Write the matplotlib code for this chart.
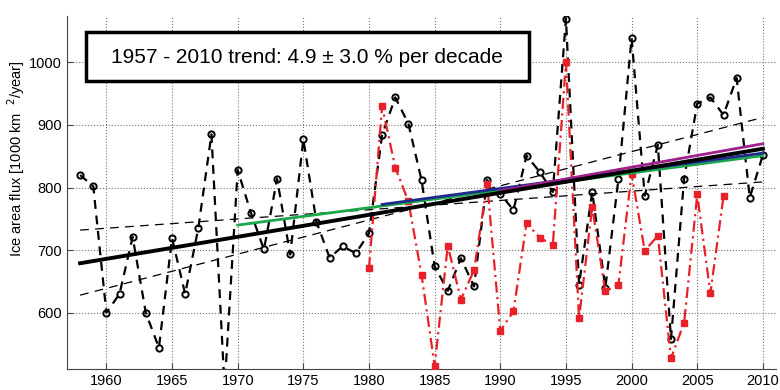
import numpy as np
import matplotlib
matplotlib.use("Agg")
import matplotlib.pyplot as plt
from matplotlib.patches import Rectangle

plt.rcParams["font.family"] = ["Liberation Sans", "DejaVu Sans"]

# annual ice area flux, 1958-2010 (black, circles)
years = list(range(1958, 2011))
flux = [820, 802, 600, 630, 721, 600, 544, 719, 630, 735,
        885, 480, 828, 760, 701, 814, 693, 877, 745, 688,
        706, 695, 727, 884, 944, 902, 812, 674, 635, 687,
        642, 812, 790, 764, 851, 825, 793, 1070, 645, 793,
        640, 814, 1039, 787, 868, 558, 814, 934, 944, 916,
        975, 784, 852]

# second estimate, 1980-2007 (red, squares)
years_red = list(range(1980, 2008))
flux_red = [671, 930, 832, 778, 661, 515, 707, 621, 668, 806,
            571, 602, 743, 720, 708, 1000, 591, 769, 634, 645,
            822, 699, 723, 527, 584, 789, 631, 786]

# trend lines (end points)
trend_years = [1958, 2010]
trend_all = [679, 862]
ci_steep = [628, 912]
ci_shallow = [732, 809]
green_years = [1970, 2010]
green_vals = [740, 851]
blue_years = [1981, 2010]
blue_vals = [773, 855]
magenta_years = [1990, 2010]
magenta_vals = [795, 870]

fig = plt.figure(figsize=(7.8, 3.9), dpi=100)
ax = fig.add_axes([0.0859, 0.0538, 0.909, 0.905])

ax.plot(trend_years, ci_steep, color="black", lw=0.9, ls=(0, (7, 5)), zorder=2)
ax.plot(trend_years, ci_shallow, color="black", lw=0.9, ls=(0, (7, 5)), zorder=2)

ax.plot(years, flux, color="black", lw=1.6, ls=(0, (4, 3)), marker="o",
        ms=4.5, mfc="none", mec="black", mew=1.4, zorder=3)
ax.plot(years_red, flux_red, color="#e8202a", lw=1.6, ls=(0, (5, 2, 1, 2)),
        marker="s", ms=4, mfc="#e8202a", mec="#e8202a", zorder=3)

ax.plot(green_years, green_vals, color="#1aa84a", lw=2, zorder=4)
ax.plot(blue_years, blue_vals, color="#1f2a8c", lw=2, zorder=4)
ax.plot(magenta_years, magenta_vals, color="#a0208c", lw=2, zorder=4)
ax.plot(trend_years, trend_all, color="black", lw=2.8, zorder=5)

ax.set_xlim(1957, 2011)
ax.set_ylim(510, 1074)
ax.set_xticks(range(1960, 2011, 5))
ax.set_yticks(range(600, 1001, 100))
ax.tick_params(direction="in", length=4, labelsize=10.5, color="#444")
ax.grid(True, ls=":", lw=0.8, color="#777")
for s in ["top", "right"]:
    ax.spines[s].set_visible(False)
for s in ["left", "bottom"]:
    ax.spines[s].set_color("#444")

ax.set_ylabel("Ice area flux [1000 km  $^2$/year]", fontsize=10.5)
ax.yaxis.set_label_coords(-0.056, 0.595)

ax.add_patch(Rectangle((0.0268, 0.816), 0.625, 0.139, transform=ax.transAxes,
                       facecolor="white", edgecolor="black", lw=2.5, zorder=10))
ax.text(0.339, 0.884, "1957 - 2010 trend: 4.9 \u00b1 3.0 % per decade",
        transform=ax.transAxes, ha="center", va="center", fontsize=15, zorder=11)

fig.savefig("out.png", dpi=100)
